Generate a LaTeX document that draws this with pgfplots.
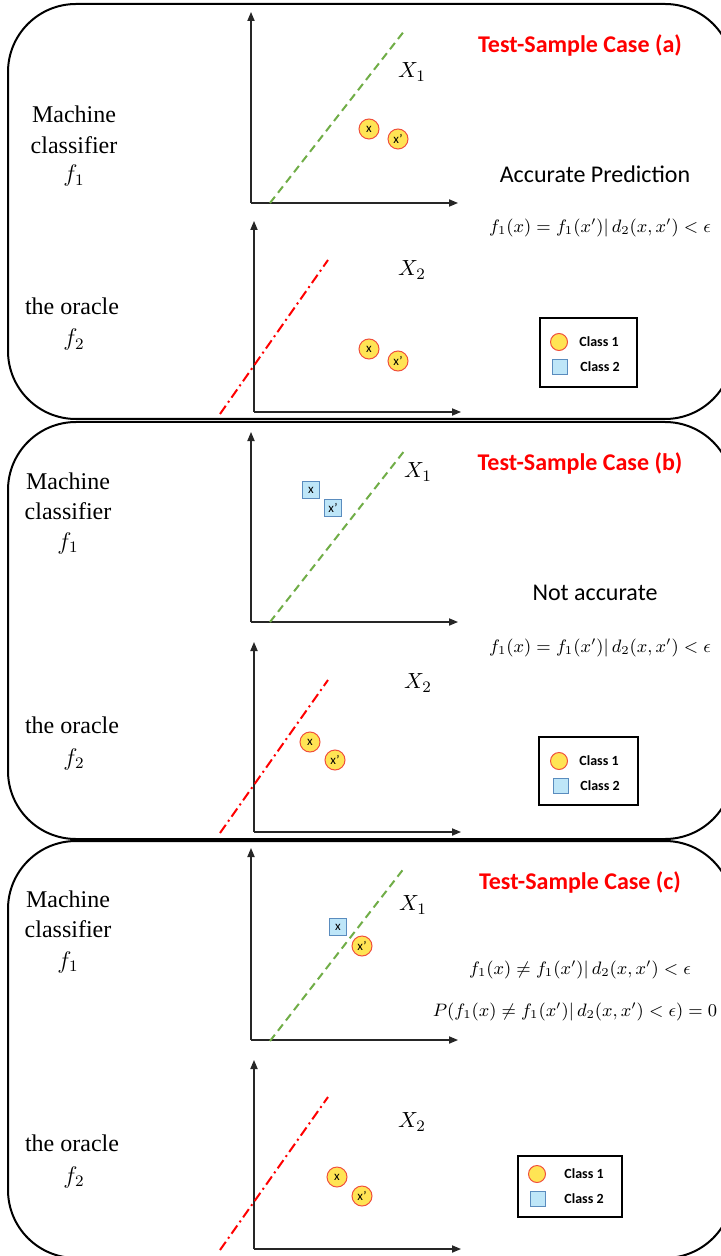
\documentclass[border=0pt]{standalone}
\usepackage{pgfplots}
\pgfplotsset{compat=1.18}
\usetikzlibrary{arrows.meta}
\usepackage{fontspec}
\setmainfont{Liberation Serif}
\newfontfamily\calib{Carlito}

\definecolor{ptfill}{RGB}{255,228,84}
\definecolor{ptdraw}{RGB}{240,80,60}
\definecolor{sqfill}{RGB}{190,230,248}
\definecolor{sqdraw}{RGB}{90,140,190}
\definecolor{lgreen}{RGB}{112,173,71}

\pgfplotsset{
  greenline/.style={color=lgreen, line width=1pt, dash pattern=on 4pt off 2.5pt},
  redline/.style={color=red, line width=1pt, dash pattern=on 5pt off 2pt on 1pt off 2pt},
  axarrow/.style={color=black!85, line width=0.6pt, -{Triangle[length=4.5pt,width=3.6pt]}},
  cls1/.style={only marks, mark=*, mark size=5pt,
    mark options={fill=ptfill, draw=ptdraw, line width=0.5pt}},
  cls2/.style={only marks, mark=square*, mark size=4.25pt,
    mark options={fill=sqfill, draw=sqdraw, line width=0.5pt}},
  lab/.style={nodes near coords, point meta=explicit symbolic,
    nodes near coords align={anchor=center},
    every node near coord/.append style={font=\calib\fontsize{6.5}{7}\selectfont, inner sep=0pt, text=black}},
}

\begin{document}
\begin{tikzpicture}
\begin{axis}[
  width=360.5pt, height=628pt, scale only axis,
  xmin=0, xmax=721, ymin=0, ymax=1256, y dir=reverse,
  hide axis, clip=false,
]

% panel frames
\draw[line width=1pt, rounded corners=34pt] (axis cs:8,4) rectangle (axis cs:733,419);
\draw[line width=1pt, rounded corners=34pt] (axis cs:8,422) rectangle (axis cs:733,839);
\draw[line width=1pt, rounded corners=34pt] (axis cs:8,841) rectangle (axis cs:733,1258);

% ---------- case (a) ----------
\addplot[axarrow] coordinates {(251,203) (251,12)};
\addplot[axarrow] coordinates {(251,203) (458,203)};
\addplot[axarrow] coordinates {(254,412) (254,221)};
\addplot[axarrow] coordinates {(254,412) (461,412)};
\addplot[greenline] coordinates {(270,203) (405,30)};
\addplot[redline] coordinates {(220,414) (328,260)};
\addplot[cls1, lab] coordinates {(369,129)[x] (398,139)[x’]};
\addplot[cls1, lab] coordinates {(369,349)[x] (398,361)[x’]};

\node[font=\fontsize{12}{14}\selectfont] at (axis cs:74,114) {Machine};
\node[font=\fontsize{12}{14}\selectfont] at (axis cs:74,145) {classifier};
\node[font=\fontsize{12}{14}\selectfont] at (axis cs:74,176) {$f_1$};
\node[font=\fontsize{12}{14}\selectfont] at (axis cs:72,306) {the oracle};
\node[font=\fontsize{12}{14}\selectfont] at (axis cs:74,340) {$f_2$};
\node[font=\fontsize{11}{13}\selectfont] at (axis cs:412,72) {$X_1$};
\node[font=\fontsize{11}{13}\selectfont] at (axis cs:412,270) {$X_2$};
\node[font=\calib\bfseries\fontsize{12}{14}\selectfont, text=red] at (axis cs:580,45) {Test-Sample Case (a)};
\node[font=\calib\fontsize{12}{14}\selectfont] at (axis cs:595,174) {Accurate Prediction};
\node[font=\fontsize{9}{11}\selectfont] at (axis cs:600,228) {$f_1(x)=f_1(x')|\,d_2(x,x')<\epsilon$};

\draw[line width=1pt] (axis cs:540,318) rectangle (axis cs:637,387);
\addplot[cls1, mark size=4.25pt] coordinates {(559,342)};
\addplot[cls2, mark size=3.75pt] coordinates {(560,367)};
\node[font=\calib\bfseries\fontsize{7}{8}\selectfont] at (axis cs:599,342) {Class 1};
\node[font=\calib\bfseries\fontsize{7}{8}\selectfont] at (axis cs:600,367) {Class 2};

% ---------- case (b) ----------
\addplot[axarrow] coordinates {(251,622) (251,432)};
\addplot[axarrow] coordinates {(251,622) (458,622)};
\addplot[axarrow] coordinates {(254,832) (254,642)};
\addplot[axarrow] coordinates {(254,832) (461,832)};
\addplot[greenline] coordinates {(270,622) (405,450)};
\addplot[redline] coordinates {(220,833) (328,680)};
\addplot[cls2, lab] coordinates {(311,490)[x] (333,508)[x’]};
\addplot[cls1, lab] coordinates {(310,742)[x] (335,760)[x’]};

\node[font=\fontsize{12}{14}\selectfont] at (axis cs:68,481) {Machine};
\node[font=\fontsize{12}{14}\selectfont] at (axis cs:68,511) {classifier};
\node[font=\fontsize{12}{14}\selectfont] at (axis cs:68,543) {$f_1$};
\node[font=\fontsize{12}{14}\selectfont] at (axis cs:72,725) {the oracle};
\node[font=\fontsize{12}{14}\selectfont] at (axis cs:74,759) {$f_2$};
\node[font=\fontsize{11}{13}\selectfont] at (axis cs:418,472) {$X_1$};
\node[font=\fontsize{11}{13}\selectfont] at (axis cs:418,683) {$X_2$};
\node[font=\calib\bfseries\fontsize{12}{14}\selectfont, text=red] at (axis cs:580,463) {Test-Sample Case (b)};
\node[font=\calib\fontsize{12}{14}\selectfont] at (axis cs:595,593) {Not accurate};
\node[font=\fontsize{9}{11}\selectfont] at (axis cs:600,648) {$f_1(x)=f_1(x')|\,d_2(x,x')<\epsilon$};

\draw[line width=1pt] (axis cs:539,737) rectangle (axis cs:638,805);
\addplot[cls1, mark size=4.25pt] coordinates {(559,761)};
\addplot[cls2, mark size=3.75pt] coordinates {(561,786)};
\node[font=\calib\bfseries\fontsize{7}{8}\selectfont] at (axis cs:599,761) {Class 1};
\node[font=\calib\bfseries\fontsize{7}{8}\selectfont] at (axis cs:600,786) {Class 2};

% ---------- case (c) ----------
\addplot[axarrow] coordinates {(251,1040) (251,848)};
\addplot[axarrow] coordinates {(251,1040) (458,1040)};
\addplot[axarrow] coordinates {(254,1249) (254,1060)};
\addplot[axarrow] coordinates {(254,1249) (461,1249)};
\addplot[greenline] coordinates {(270,1041) (405,867)};
\addplot[redline] coordinates {(220,1250) (328,1097)};
\addplot[cls2, lab] coordinates {(338,927)[x]};
\addplot[cls1, lab] coordinates {(362,946)[x’]};
\addplot[cls1, lab] coordinates {(337,1177)[x] (362,1196)[x’]};

\node[font=\fontsize{12}{14}\selectfont] at (axis cs:68,899) {Machine};
\node[font=\fontsize{12}{14}\selectfont] at (axis cs:68,929) {classifier};
\node[font=\fontsize{12}{14}\selectfont] at (axis cs:68,962) {$f_1$};
\node[font=\fontsize{12}{14}\selectfont] at (axis cs:72,1143) {the oracle};
\node[font=\fontsize{12}{14}\selectfont] at (axis cs:74,1177) {$f_2$};
\node[font=\fontsize{11}{13}\selectfont] at (axis cs:413,905) {$X_1$};
\node[font=\fontsize{11}{13}\selectfont] at (axis cs:412,1122) {$X_2$};
\node[font=\calib\bfseries\fontsize{12}{14}\selectfont, text=red] at (axis cs:580,882) {Test-Sample Case (c)};
\node[font=\fontsize{9}{11}\selectfont] at (axis cs:580,970) {$f_1(x)\neq f_1(x')|\,d_2(x,x')<\epsilon$};
\node[font=\fontsize{9}{11}\selectfont] at (axis cs:575,1012) {$P(f_1(x)\neq f_1(x')|\,d_2(x,x')<\epsilon)=0$};

\draw[line width=1pt] (axis cs:518,1156) rectangle (axis cs:622,1217);
\addplot[cls1, mark size=4.25pt] coordinates {(537,1174)};
\addplot[cls2, mark size=3.75pt] coordinates {(538,1199)};
\node[font=\calib\bfseries\fontsize{7}{8}\selectfont] at (axis cs:584,1174) {Class 1};
\node[font=\calib\bfseries\fontsize{7}{8}\selectfont] at (axis cs:584,1199) {Class 2};

\end{axis}
\pgfresetboundingbox
\path (0,0) rectangle (360.5pt,628pt);
\end{tikzpicture}
\end{document}
